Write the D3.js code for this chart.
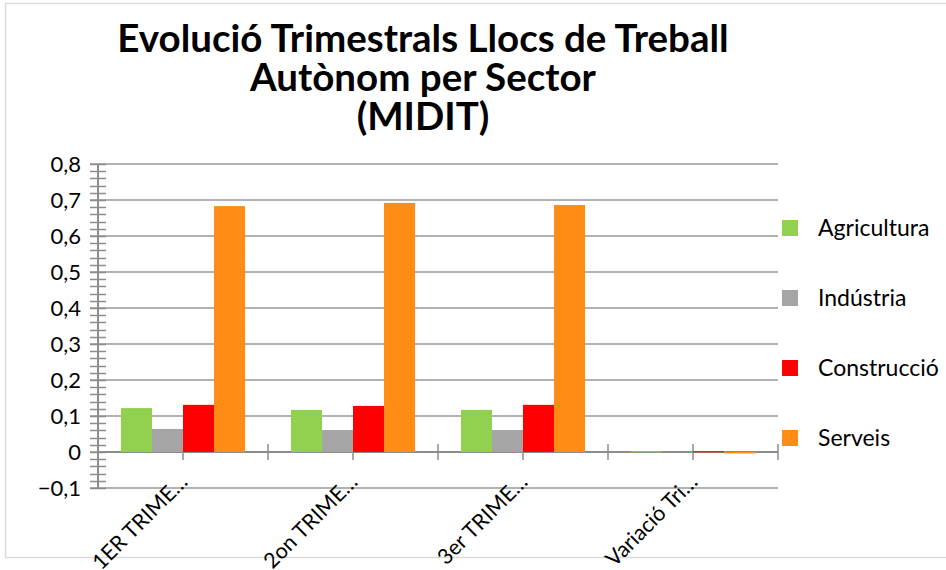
<!DOCTYPE html>
<html>
<head>
<meta charset="utf-8">
<script src="https://cdn.jsdelivr.net/npm/d3@7/dist/d3.min.js"></script>
<style>
  html, body { margin: 0; padding: 0; background: #fff; }
  svg { display: block; font-family: Lato, "Liberation Sans", sans-serif; }
</style>
</head>
<body>
<svg id="chart" width="946" height="570"></svg>
<script>
// Quarterly self-employment jobs by sector
const categories = ["1ER TRIME…", "2on TRIME…", "3er TRIME…", "Variació Tri…"];
const seriesNames = ["Agricultura", "Indústria", "Construcció", "Serveis"];
const agricultura = [0.122, 0.117, 0.117, 0.002];
const industria   = [0.064, 0.061, 0.061, 0.000];
const construccio = [0.131, 0.128, 0.131, 0.002];
const serveis     = [0.683, 0.692, 0.686, -0.004];
const seriesColors = ["#92d050", "#a5a5a5", "#ff0000", "#ff8c14"];
const yTicks = [-0.1, 0, 0.1, 0.2, 0.3, 0.4, 0.5, 0.6, 0.7, 0.8];
const titleLines = ["Evolució Trimestrals Llocs de Treball", "Autònom per Sector", "(MIDIT)"];

const seriesValues = [agricultura, industria, construccio, serveis];

const svg = d3.select("#chart");

// outer chart frame
svg.append("rect")
  .attr("x", 5.5).attr("y", 3.5)
  .attr("width", 960).attr("height", 554)
  .attr("fill", "#fff").attr("stroke", "#d9d9d9").attr("stroke-width", 1.5);

const plotLeft = 98, plotRight = 778, plotTop = 164, plotBottom = 488;

const y = d3.scaleLinear().domain([-0.1, 0.8]).range([plotBottom, plotTop]);
const x0 = d3.scaleBand().domain(categories).range([plotLeft, plotRight]).padding(0);
const bw = x0.bandwidth();
const x1 = d3.scaleBand().domain(seriesNames).range([bw * 0.135, bw * 0.865]).padding(0);

// gridlines
svg.append("g").selectAll("line").data(yTicks).join("line")
  .attr("x1", plotLeft - 8).attr("x2", plotRight)
  .attr("y1", d => y(d)).attr("y2", d => y(d))
  .attr("stroke", "#999").attr("stroke-width", 1.5);

// minor ticks on the value axis
const minor = d3.range(-0.1, 0.8001, 0.02);
svg.append("g").selectAll("line").data(minor).join("line")
  .attr("x1", plotLeft - 8).attr("x2", plotLeft + 8)
  .attr("y1", d => Math.round(y(d)) + 0.5).attr("y2", d => Math.round(y(d)) + 0.5)
  .attr("stroke", "#8c8c8c").attr("stroke-width", 1.5);

// value axis line
svg.append("line")
  .attr("x1", plotLeft).attr("x2", plotLeft)
  .attr("y1", plotTop).attr("y2", plotBottom)
  .attr("stroke", "#8c8c8c").attr("stroke-width", 2);

// value axis labels
svg.append("g").selectAll("text").data(yTicks).join("text")
  .attr("x", 81).attr("y", d => y(d))
  .attr("dy", "0.35em")
  .attr("text-anchor", "end")
  .attr("font-size", 22).attr("fill", "#000")
  .text(d => d === 0 ? "0" : d3.format(".1f")(d).replace(".", ","));

// category axis line and ticks (at band edges and centres)
svg.append("line")
  .attr("x1", plotLeft).attr("x2", plotRight)
  .attr("y1", y(0)).attr("y2", y(0))
  .attr("stroke", "#8c8c8c").attr("stroke-width", 2);
const catTicks = [];
categories.forEach(c => { catTicks.push(x0(c) + bw / 2); catTicks.push(x0(c) + bw); });
svg.append("g").selectAll("line").data(catTicks).join("line")
  .attr("x1", d => d).attr("x2", d => d)
  .attr("y1", y(0) - 8).attr("y2", y(0) + 8)
  .attr("stroke", "#8c8c8c").attr("stroke-width", 1.5);

// bars (drawn over the category axis)
const groups = svg.append("g").selectAll("g").data(categories).join("g")
  .attr("transform", d => `translate(${x0(d)},0)`);
groups.selectAll("rect")
  .data((c, i) => seriesNames.map((s, k) => ({ s, k, v: seriesValues[k][i] })))
  .join("rect")
  .attr("x", d => x1(d.s))
  .attr("width", x1.bandwidth())
  .attr("y", d => Math.min(y(d.v), y(0)))
  .attr("height", d => Math.max(Math.abs(y(d.v) - y(0)), d.v === 0 ? 0 : 1))
  .attr("fill", d => seriesColors[d.k]);

// rotated category labels
svg.append("g").selectAll("text").data(categories).join("text")
  .attr("transform", d => `translate(${x0(d) + bw / 2 + 0.5},${y(0) + 26}) rotate(-45)`)
  .attr("text-anchor", "end")
  .attr("dy", "0.35em")
  .attr("font-size", 21.5).attr("fill", "#000")
  .text(d => d);

// title, three centred lines in one text block
svg.append("text")
  .attr("text-anchor", "middle")
  .attr("font-size", 38.5).attr("font-weight", "bold").attr("fill", "#000")
  .selectAll("tspan").data(titleLines).join("tspan")
  .attr("x", 423).attr("y", (d, i) => 52 + i * 39)
  .text(d => d);

// legend
const legend = svg.append("g").selectAll("g").data(seriesNames).join("g")
  .attr("transform", (d, i) => `translate(782,${228 + i * 70})`);
legend.append("rect")
  .attr("x", 0).attr("y", -8).attr("width", 16).attr("height", 16)
  .attr("fill", (d, i) => seriesColors[i]);
legend.append("text")
  .attr("x", 36).attr("y", 0).attr("dy", "0.35em")
  .attr("font-size", 23).attr("fill", "#000")
  .text(d => d);
</script>
</body>
</html>
